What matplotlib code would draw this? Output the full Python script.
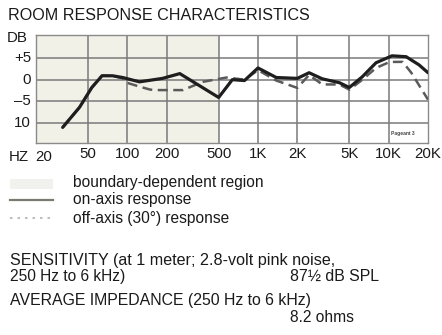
import matplotlib
matplotlib.use("Agg")
import matplotlib.pyplot as plt
from matplotlib.lines import Line2D
from matplotlib.transforms import blended_transform_factory

plt.rcParams['font.family'] = ['Liberation Sans', 'DejaVu Sans']

# On-axis response (Hz, dB)
on_freq = [32, 43, 53.5, 64, 77, 92, 124, 186, 252, 500, 636, 788, 1000, 1380, 2000,
           2460, 3100, 4200, 5000, 6300, 8000, 10600, 13600, 17100, 20000]
on_db = [-11, -6.4, -1.8, 0.9, 0.9, 0.5, -0.5, 0.3, 1.4, -4.1, 0.0, -0.2, 2.7, 0.5, 0.3,
         1.6, 0.2, -0.7, -1.8, 0.7, 3.9, 5.5, 5.3, 3.4, 1.6]

# Off-axis (30 degree) response (Hz, dB)
off_freq = [32, 43, 53.5, 64, 77, 92, 99, 124, 150, 176, 266, 378, 574, 788, 1000,
            1380, 2000, 2460, 3100, 4200, 5000, 6300, 8000, 10200, 12800, 14900, 20000]
off_db = [-11, -6.4, -1.8, 0.9, 0.9, 0.3, -0.7, -1.6, -2.3, -2.4, -2.4, -0.5, 0.5, 0.0, 2.2,
          -0.2, -1.9, 1.1, -1.1, -1.1, -2.3, 0.0, 2.7, 4.1, 4.1, 1.6, -4.6]

grid_freqs = [50, 100, 200, 500, 1000, 2000, 5000, 10000]
tick_freqs = [50, 100, 200, 500, 1000, 2000, 5000, 10000, 20000]
tick_labels = ["50", "100", "200", "500", "1K", "2K", "5K", "10K", "20K"]
db_levels = [5, 0, -5, -10]
db_labels = ["+5", "0", "\u20135", "10"]
boundary_limit = 500

W, H = 442, 335
fig = plt.figure(figsize=(W / 100, H / 100), dpi=100)
fig.patch.set_facecolor("white")

ax = fig.add_axes([36 / W, 1 - 143 / H, (428 - 36) / W, (143 - 35) / H])
ax.set_xscale("log")
ax.set_xlim(20, 20000)
ax.set_ylim(-14.6, 10.3)
ax.axvspan(20, boundary_limit, color="#f1f1e8", zorder=0, lw=0)
for f in grid_freqs:
    ax.axvline(f, color="#7a7a7a", lw=1.1, zorder=1)
for d in db_levels:
    ax.axhline(d, color="#7a7a7a", lw=1.1, zorder=1)
for s in ax.spines.values():
    s.set_color("#8a8a8a")
    s.set_linewidth(1.0)
ax.set_xticks([])
ax.set_yticks([])
ax.minorticks_off()

ax.plot(off_freq, off_db, color="#5a5a5a", lw=1.8, ls=(0, (4, 2.2)), zorder=3)
ax.plot(on_freq, on_db, color="#1e1e1e", lw=2.3, zorder=4,
        solid_joinstyle="round", solid_capstyle="round")

ax.text(0.965, 0.09, "Pageant 3", transform=ax.transAxes, fontsize=3.6,
        fontweight="bold", color="#444444", ha="right", va="center")

txt_color = "#1a1a1a"
fs_axis = 10.8
fs_body = 11.2

# frequency labels under the grid
for f, lab in zip(tick_freqs, tick_labels):
    ax.text(f, -17.2, lab, ha="center", va="center", fontsize=fs_axis, color=txt_color)
fig.text(9 / W, 1 - 157 / H, "HZ", ha="left", va="center", fontsize=fs_axis, color=txt_color)
fig.text(44 / W, 1 - 157 / H, "20", ha="center", va="center", fontsize=fs_axis, color=txt_color)

# level labels left of the grid
fig.text(7 / W, 1 - 38 / H, "DB", ha="left", va="center", fontsize=fs_axis, color=txt_color)
ytrans = blended_transform_factory(fig.transFigure, ax.transData)
for d, lab in zip(db_levels, db_labels):
    fig.text(31 / W, d, lab, transform=ytrans, ha="right", va="center",
             fontsize=fs_axis, color=txt_color)

fig.text(8 / W, 1 - 16 / H, "ROOM RESPONSE CHARACTERISTICS", ha="left", va="center",
         fontsize=11.6, color=txt_color)

# legend
fig.patches.append(plt.Rectangle((10 / W, 1 - 189 / H), 43 / W, 10 / H,
                                 transform=fig.transFigure, color="#f1f1ee", lw=0))
fig.lines.append(Line2D([10 / W, 53 / W], [1 - 200 / H, 1 - 200 / H],
                        transform=fig.transFigure, color="#7a7a70", lw=1.6))
fig.lines.append(Line2D([10 / W, 53 / W], [1 - 218 / H, 1 - 218 / H],
                        transform=fig.transFigure, color="#b0b0b0", lw=1.2,
                        ls=(0, (1.5, 3))))
fig.text(73 / W, 1 - 183 / H, "boundary-dependent region", ha="left", va="center",
         fontsize=fs_body, color=txt_color)
fig.text(73 / W, 1 - 200 / H, "on-axis response", ha="left", va="center",
         fontsize=fs_body, color=txt_color)
fig.text(73 / W, 1 - 218 / H, "off-axis (30\u00b0) response", ha="left", va="center",
         fontsize=fs_body, color=txt_color)

# specifications
fig.text(10 / W, 1 - 260 / H, "SENSITIVITY (at 1 meter; 2.8-volt pink noise,",
         ha="left", va="center", fontsize=11.6, color=txt_color)
fig.text(10 / W, 1 - 276 / H, "250 Hz to 6 kHz)", ha="left", va="center",
         fontsize=fs_body, color=txt_color)
fig.text(290 / W, 1 - 276 / H, "87\u00bd dB SPL", ha="left", va="center",
         fontsize=11.4, color=txt_color)
fig.text(10 / W, 1 - 301 / H, "AVERAGE IMPEDANCE (250 Hz to 6 kHz)", ha="left",
         va="center", fontsize=11.4, color=txt_color)
fig.text(290 / W, 1 - 317 / H, "8.2 ohms", ha="left", va="center",
         fontsize=fs_body, color=txt_color)

fig.savefig("out.png", dpi=100)
